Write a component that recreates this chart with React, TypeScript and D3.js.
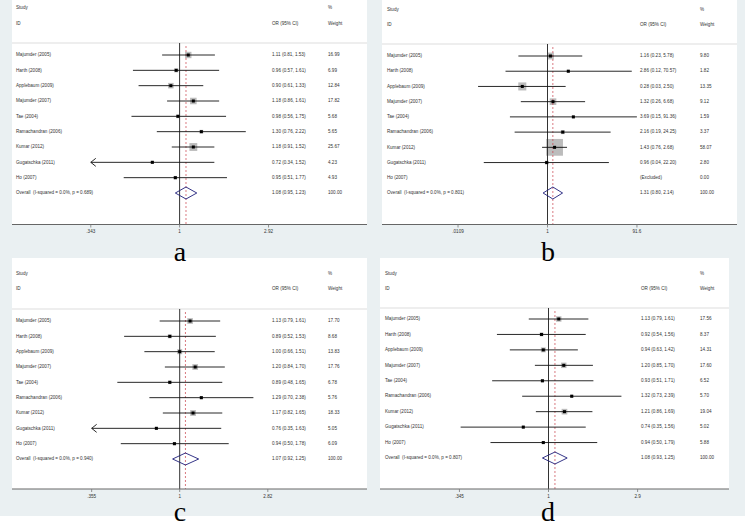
import * as d3 from 'd3';

const W = 745;
const H = 522;

// study names, same order in all four panels
const studies = [
  'Majumder (2005)',
  'Harth (2008)',
  'Applebaum (2009)',
  'Majumder (2007)',
  'Tae (2004)',
  'Ramachandran (2006)',
  'Kumar (2012)',
  'Gugatschka (2011)',
  'Ho (2007)',
];

// panel a
const orA = [1.11, 0.96, 0.9, 1.18, 0.98, 1.3, 1.18, 0.72, 0.95];
const loA = [0.81, 0.57, 0.61, 0.86, 0.56, 0.76, 0.91, 0.34, 0.51];
const hiA = [1.53, 1.61, 1.33, 1.61, 1.75, 2.22, 1.52, 1.52, 1.77];
const wA = [16.99, 6.99, 12.84, 17.82, 5.68, 5.65, 25.67, 4.23, 4.93];
const overallA = [1.08, 0.95, 1.23];
const hetA = 'I-squared = 0.0%, p = 0.689';
const tickValsA = [0.343, 1, 2.92];
const tickLabsA = ['.343', '1', '2.92'];

// panel b (Ho excluded)
const orB = [1.16, 2.86, 0.28, 1.32, 3.69, 2.16, 1.43, 0.96, null];
const loB = [0.23, 0.12, 0.03, 0.26, 0.15, 0.19, 0.76, 0.04, null];
const hiB = [5.78, 70.57, 2.5, 6.68, 91.36, 24.25, 2.68, 22.2, null];
const wB = [9.8, 1.82, 13.35, 9.12, 1.59, 3.37, 58.07, 2.8, 0];
const overallB = [1.31, 0.8, 2.14];
const hetB = 'I-squared = 0.0%, p = 0.801';
const tickValsB = [0.0109, 1, 91.6];
const tickLabsB = ['.0109', '1', '91.6'];

// panel c
const orC = [1.13, 0.89, 1.0, 1.2, 0.89, 1.29, 1.17, 0.76, 0.94];
const loC = [0.79, 0.52, 0.66, 0.84, 0.48, 0.7, 0.82, 0.35, 0.5];
const hiC = [1.61, 1.53, 1.51, 1.7, 1.65, 2.38, 1.65, 1.63, 1.78];
const wC = [17.7, 8.68, 13.83, 17.76, 6.78, 5.76, 18.33, 5.05, 6.09];
const overallC = [1.07, 0.92, 1.25];
const hetC = 'I-squared = 0.0%, p = 0.940';
const tickValsC = [0.355, 1, 2.82];
const tickLabsC = ['.355', '1', '2.82'];

// panel d
const orD = [1.13, 0.92, 0.94, 1.2, 0.93, 1.32, 1.21, 0.74, 0.94];
const loD = [0.79, 0.54, 0.63, 0.85, 0.51, 0.73, 0.86, 0.35, 0.5];
const hiD = [1.61, 1.56, 1.42, 1.7, 1.71, 2.39, 1.69, 1.56, 1.79];
const wD = [17.56, 8.37, 14.31, 17.6, 6.52, 5.7, 19.04, 5.02, 5.88];
const overallD = [1.08, 0.93, 1.25];
const hetD = 'I-squared = 0.0%, p = 0.807';
const tickValsD = [0.345, 1, 2.9];
const tickLabsD = ['.345', '1', '2.9'];

const panelLetters = ['a', 'b', 'c', 'd'];

const bg = 'rgb(234,240,242)';
const font = '"Liberation Sans", Arial, sans-serif';
const fs = 4.6;
const f2 = d3.format('.2f');

type Layout = {
  x0: number; x1: number; top: number; axisY: number;
  nullX: number; k: number; firstY: number; lastY: number;
  studyY: number; idY: number; sepY: number;
  labelX: number; orX: number; wX: number; boxK: number;
  letterX: number; letterY: number;
};

type PanelData = {
  or: (number | null)[]; lo: (number | null)[]; hi: (number | null)[]; w: number[];
  overall: number[]; het: string; tickVals: number[]; tickLabs: string[];
};

const Panel = ({ L, D }: { L: Layout; D: PanelData }) => {
  const lo = D.tickVals[0];
  const hi = D.tickVals[D.tickVals.length - 1];
  const x = d3
    .scaleLog()
    .domain([lo, hi])
    .range([L.nullX - L.k * Math.log(1 / lo), L.nullX + L.k * Math.log(hi)]);
  const y = d3.scaleLinear().domain([0, studies.length]).range([L.firstY, L.lastY]);
  const [oE, oL, oH] = D.overall;
  const dh = 6;
  const oy = y(studies.length);

  return (
    <g>
      <rect x={L.x0} y={L.top} width={L.x1 - L.x0} height={L.axisY - L.top} fill="#fff" />
      {/* header */}
      <g fontFamily={font} fontSize={fs} fill="#333" dominantBaseline="middle">
        <text x={L.labelX} y={L.studyY}>Study</text>
        <text x={L.labelX} y={L.idY}>ID</text>
        <text x={L.orX} y={L.idY}>OR (95% CI)</text>
        <text x={L.wX} y={L.studyY}>%</text>
        <text x={L.wX} y={L.idY}>Weight</text>
      </g>
      <line x1={L.x0} x2={L.x1} y1={L.sepY} y2={L.sepY} stroke="#d4d4d4" strokeWidth={0.8} />

      {/* boxes */}
      {studies.map((s, i) => {
        const e = D.or[i];
        if (e == null) return null;
        const side = L.boxK * Math.sqrt(D.w[i]);
        return (
          <rect key={s} x={x(e) - side / 2} y={y(i) - side / 2} width={side} height={side} fill="#bcbcbc" />
        );
      })}

      {/* null line and overall line */}
      <line x1={x(1)} x2={x(1)} y1={L.sepY} y2={L.axisY} stroke="#333" strokeWidth={1} />
      <line x1={x(oE)} x2={x(oE)} y1={L.sepY + 3} y2={L.axisY} stroke="#c8404a" strokeWidth={0.7} strokeDasharray="2 2" />

      {/* CI lines, point markers */}
      {studies.map((s, i) => {
        const e = D.or[i];
        const l = D.lo[i];
        const h = D.hi[i];
        if (e == null || l == null || h == null) return null;
        const xl = x(Math.max(l, lo));
        const xh = x(Math.min(h, hi));
        const yy = y(i);
        return (
          <g key={s}>
            <line x1={xl} x2={xh} y1={yy} y2={yy} stroke="#111" strokeWidth={0.9} />
            {l < lo && (
              <path d={`M${xl + 5},${yy - 4}L${xl},${yy}L${xl + 5},${yy + 4}`} fill="none" stroke="#111" strokeWidth={0.9} />
            )}
            {h > hi && (
              <path d={`M${xh - 5},${yy - 4}L${xh},${yy}L${xh - 5},${yy + 4}`} fill="none" stroke="#111" strokeWidth={0.9} />
            )}
            <rect x={x(e) - 1.5} y={yy - 1.5} width={3} height={3} fill="#000" />
          </g>
        );
      })}

      {/* overall diamond */}
      <path
        d={`M${x(oL)},${oy}L${x(oE)},${oy - dh}L${x(oH)},${oy}L${x(oE)},${oy + dh}Z`}
        fill="none"
        stroke="#1e1e7a"
        strokeWidth={0.9}
      />

      {/* row text */}
      <g fontFamily={font} fontSize={fs} fill="#333" dominantBaseline="middle">
        {studies.map((s, i) => {
          const e = D.or[i];
          const l = D.lo[i];
          const h = D.hi[i];
          return (
            <g key={s}>
              <text x={L.labelX} y={y(i)}>{s}</text>
              <text x={L.orX} y={y(i)}>
                {e == null || l == null || h == null ? '(Excluded)' : `${f2(e)} (${f2(l)}, ${f2(h)})`}
              </text>
              <text x={L.wX} y={y(i)}>{f2(D.w[i])}</text>
            </g>
          );
        })}
        <text x={L.labelX} y={oy} style={{ whiteSpace: 'pre' }}>
          {`Overall  (${D.het})`}
        </text>
        <text x={L.orX} y={oy}>{`${f2(oE)} (${f2(oL)}, ${f2(oH)})`}</text>
        <text x={L.wX} y={oy}>{f2(100)}</text>
      </g>

      {/* axis */}
      <line x1={L.x0} x2={L.x1} y1={L.axisY} y2={L.axisY} stroke="#666" strokeWidth={1} />
      {D.tickVals.map((t, i) => (
        <g key={t}>
          <line x1={x(t)} x2={x(t)} y1={L.axisY} y2={L.axisY + 3} stroke="#777" strokeWidth={0.8} />
          <text
            x={x(t)}
            y={L.axisY + 7.5}
            textAnchor="middle"
            dominantBaseline="middle"
            fontFamily={font}
            fontSize={fs}
            fill="#333"
          >
            {D.tickLabs[i]}
          </text>
        </g>
      ))}
    </g>
  );
};

const layoutA: Layout = {
  x0: 12, x1: 367, top: 0, axisY: 224.5, nullX: 179.6, k: 83, firstY: 55, lastY: 193,
  studyY: 8, idY: 24, sepY: 43, labelX: 16, orX: 272, wX: 328, boxK: 1.55,
  letterX: 180, letterY: 261,
};
const layoutB: Layout = {
  x0: 382, x1: 737, top: 0, axisY: 224.5, nullX: 547.5, k: 19.8, firstY: 56, lastY: 193,
  studyY: 10, idY: 25, sepY: 44, labelX: 387, orX: 640, wX: 700, boxK: 2.2,
  letterX: 548, letterY: 261,
};
const layoutC: Layout = {
  x0: 12, x1: 367, top: 258, axisY: 489, nullX: 179.7, k: 85, firstY: 321, lastY: 459,
  studyY: 274, idY: 289, sepY: 309, labelX: 16, orX: 272, wX: 328, boxK: 1.35,
  letterX: 180, letterY: 521,
};
const layoutD: Layout = {
  x0: 380, x1: 729, top: 258, axisY: 489, nullX: 548.5, k: 83.7, firstY: 319, lastY: 458,
  studyY: 274, idY: 289, sepY: 308, labelX: 385, orX: 641, wX: 700, boxK: 1.3,
  letterX: 548, letterY: 521,
};

const layouts = [layoutA, layoutB, layoutC, layoutD];

export default function App() {
  return (
    <svg
      width={W}
      height={H}
      viewBox={`0 0 ${W} ${H}`}
      style={{ position: 'absolute', left: 0, top: 0, display: 'block' }}
    >
      <rect x={0} y={0} width={W} height={H} fill="#fff" />
      <rect x={0} y={0} width={W} height={516} fill={bg} />
      <Panel
        L={layoutA}
        D={{ or: orA, lo: loA, hi: hiA, w: wA, overall: overallA, het: hetA, tickVals: tickValsA, tickLabs: tickLabsA }}
      />
      <Panel
        L={layoutB}
        D={{ or: orB, lo: loB, hi: hiB, w: wB, overall: overallB, het: hetB, tickVals: tickValsB, tickLabs: tickLabsB }}
      />
      <Panel
        L={layoutC}
        D={{ or: orC, lo: loC, hi: hiC, w: wC, overall: overallC, het: hetC, tickVals: tickValsC, tickLabs: tickLabsC }}
      />
      <Panel
        L={layoutD}
        D={{ or: orD, lo: loD, hi: hiD, w: wD, overall: overallD, het: hetD, tickVals: tickValsD, tickLabs: tickLabsD }}
      />
      {/* panel letters drawn last so they sit over the panel edges */}
      {layouts.map((L, i) => (
        <text
          key={panelLetters[i]}
          x={L.letterX}
          y={L.letterY}
          textAnchor="middle"
          fontFamily='"Liberation Serif", "Times New Roman", serif'
          fontSize={28}
          fill="#000"
        >
          {panelLetters[i]}
        </text>
      ))}
    </svg>
  );
}
